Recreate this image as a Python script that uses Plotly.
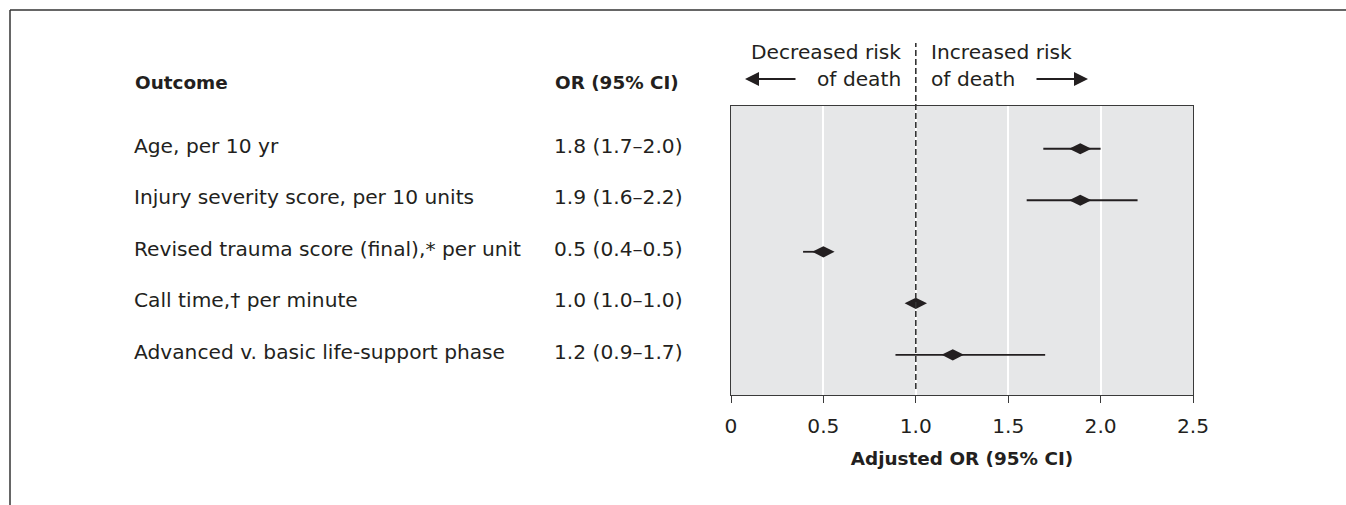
import plotly.graph_objects as go

# ---- data ----
outcomes = [
    "Age, per 10 yr",
    "Injury severity score, per 10 units",
    "Revised trauma score (final),* per unit",
    "Call time,\u2020 per minute",
    "Advanced v. basic life-support phase",
]
or_labels = [
    "1.8 (1.7\u20132.0)",
    "1.9 (1.6\u20132.2)",
    "0.5 (0.4\u20130.5)",
    "1.0 (1.0\u20131.0)",
    "1.2 (0.9\u20131.7)",
]
or_est = [1.89, 1.89, 0.50, 1.00, 1.20]
ci_low = [1.69, 1.60, 0.39, 0.99, 0.89]
ci_high = [2.00, 2.20, 0.52, 1.01, 1.70]
x_ticks = [0, 0.5, 1.0, 1.5, 2.0, 2.5]
x_tick_text = ["0", "0.5", "1.0", "1.5", "2.0", "2.5"]
null_value = 1.0

# ---- layout geometry (pixels) ----
W, H = 1346, 505
ML, MR, MT, MB = 731, W - 1193, 106, H - 395
PW, PH = W - ML - MR, H - MT - MB


def px_x(p):
    return (p - ML) / PW


def px_y(p):
    return (H - MB - p) / PH


INK = "#231f20"
FONT = "DejaVu Sans"
FS = 20.2
FSB = 18.4

rows = list(range(len(outcomes)))

fig = go.Figure()
fig.add_trace(go.Scatter(
    x=or_est,
    y=rows,
    mode="markers",
    marker=dict(symbol="diamond-wide", size=16, color=INK, line=dict(width=0)),
    error_x=dict(
        type="data",
        symmetric=False,
        array=[h - e for h, e in zip(ci_high, or_est)],
        arrayminus=[e - l for e, l in zip(or_est, ci_low)],
        color=INK,
        thickness=1.8,
        width=0,
    ),
    showlegend=False,
    hoverinfo="skip",
))

annotations = []
# headers
annotations.append(dict(text="<b>Outcome</b>", x=px_x(133), y=px_y(82), xref="paper", yref="paper",
                        xanchor="left", yanchor="middle", showarrow=False, font=dict(size=FSB)))
annotations.append(dict(text="<b>OR (95% CI)</b>", x=px_x(553), y=px_y(82), xref="paper", yref="paper",
                        xanchor="left", yanchor="middle", showarrow=False, font=dict(size=FSB)))
for i, (o, l) in enumerate(zip(outcomes, or_labels)):
    annotations.append(dict(text=o, x=px_x(132), y=i, xref="paper", yref="y",
                            xanchor="left", yanchor="middle", showarrow=False, yshift=3))
    annotations.append(dict(text=l, x=px_x(552), y=i, xref="paper", yref="y",
                            xanchor="left", yanchor="middle", showarrow=False, yshift=3))

# direction labels
annotations += [
    dict(text="Decreased risk", x=px_x(903), y=px_y(52), xref="paper", yref="paper",
         xanchor="right", yanchor="middle", showarrow=False),
    dict(text="of death", x=px_x(903), y=px_y(79), xref="paper", yref="paper",
         xanchor="right", yanchor="middle", showarrow=False),
    dict(text="Increased risk", x=px_x(929), y=px_y(52), xref="paper", yref="paper",
         xanchor="left", yanchor="middle", showarrow=False),
    dict(text="of death", x=px_x(929), y=px_y(79), xref="paper", yref="paper",
         xanchor="left", yanchor="middle", showarrow=False),
    dict(text="", x=px_x(745), y=px_y(79), xref="paper", yref="paper", showarrow=True,
         ax=52, ay=0, arrowhead=2, arrowsize=1.4, arrowwidth=2, arrowcolor=INK),
    dict(text="", x=px_x(1088), y=px_y(79), xref="paper", yref="paper", showarrow=True,
         ax=-53, ay=0, arrowhead=2, arrowsize=1.4, arrowwidth=2, arrowcolor=INK),
]

shapes = [
    # null line
    dict(type="line", xref="x", yref="paper", x0=null_value, x1=null_value,
         y0=px_y(389), y1=px_y(43), line=dict(color="#333333", width=1.6, dash="6px,3px"), layer="above"),
    # frame top and left
    dict(type="line", xref="paper", yref="paper", x0=px_x(10), x1=px_x(W + 5),
         y0=px_y(10), y1=px_y(10), line=dict(color="#333333", width=1.5)),
    dict(type="line", xref="paper", yref="paper", x0=px_x(10), x1=px_x(10),
         y0=px_y(10), y1=px_y(H + 5), line=dict(color="#333333", width=1.5)),
]

fig.update_layout(
    width=W,
    height=H,
    margin=dict(l=ML, r=MR, t=MT, b=MB, pad=0),
    paper_bgcolor="white",
    plot_bgcolor="#e6e7e8",
    font=dict(family=FONT, size=FS, color=INK),
    annotations=annotations,
    shapes=shapes,
    xaxis=dict(
        range=[0, 2.5],
        tickvals=x_ticks,
        ticktext=x_tick_text,
        showgrid=True,
        gridcolor="white",
        gridwidth=1.5,
        zeroline=False,
        showline=True,
        linecolor="#3a3a3a",
        linewidth=1.2,
        mirror=True,
        ticks="outside",
        ticklen=7,
        tickwidth=1.2,
        tickcolor="#3a3a3a",
        ticklabelstandoff=6,
        tickfont=dict(size=FS, color=INK),
        title=dict(text="<b>Adjusted OR (95% CI)</b>", font=dict(size=FSB, color=INK), standoff=14),
        fixedrange=True,
    ),
    yaxis=dict(
        range=[4.78, -0.83],
        showticklabels=False,
        showgrid=False,
        zeroline=False,
        showline=True,
        linecolor="#3a3a3a",
        linewidth=1.2,
        mirror=True,
        ticks="",
        fixedrange=True,
    ),
)

fig.write_html("out.html", config={"displayModeBar": False})
